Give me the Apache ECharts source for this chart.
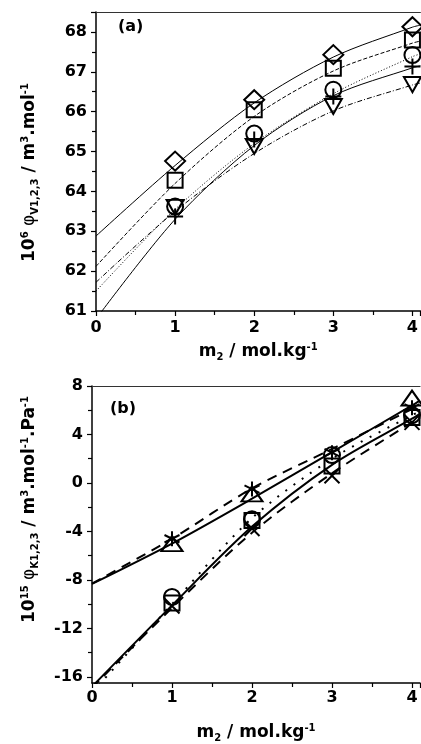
<!DOCTYPE html>
<html>
<head>
<meta charset="utf-8">
<script src="https://cdn.jsdelivr.net/npm/echarts@6/dist/echarts.min.js"></script>
<style>
  html, body { margin: 0; padding: 0; background: #fff; }
  #chart { width: 421px; height: 744px; }
</style>
</head>
<body>
<div id="chart"></div>
<script>
'use strict';

// measured points, m2 / mol.kg-1
const molality = [1, 2, 3, 4];
const fitX = [0, 1, 2, 3, 4, 4.1];

// panel (a): 10^6 phi_V
const diamondA = [64.76, 66.3, 67.43, 68.13];
const squareA = [64.28, 66.05, 67.09, 67.8];
const circleA = [63.62, 65.45, 66.55, 67.42];
const plusA = [63.37, 65.3, 66.38, 67.13];
const triDownA = [63.6, 65.13, 66.13, 66.68];

const fitDiamondA = [62.88, 64.65, 66.22, 67.37, 68.12, 68.17];
const fitSquareA = [62.12, 64.2, 65.88, 67.02, 67.72, 67.77];
const fitCircleA = [61.5, 63.55, 65.2, 66.45, 67.38, 67.45];
const fitPlusA = [60.8, 63.3, 65.15, 66.4, 67.1, 67.15];
const fitTriA = [61.72, 63.5, 64.95, 66.02, 66.67, 66.72];

// panel (b): 10^15 phi_K
const triUpB = [-5.0, -0.9, null, 7.0];
const starB = [-4.6, -0.5, 2.5, 6.2];
const circleB = [-9.4, -3.0, 2.3, 5.6];
const squareB = [-9.9, -3.1, 1.4, 5.4];
const crossB = [-10.15, -3.75, 0.6, 5.0];

const fitTriB = [-8.33, -5.0, -1.3, 2.55, 6.4, 6.8];
const fitStarB = [-8.3, -4.6, -0.45, 2.8, 6.1, 6.45];
const fitCircleB = [-16.8, -10.1, -3.6, 1.5, 5.3, 5.7];
const fitSquareB = [-17.3, -10.0, -2.9, 2.0, 5.6, 5.9];
const fitCrossB = [-16.9, -10.3, -4.1, 0.8, 5.0, 5.4];

const ticksB = [-16, -12, -8, -4, 0, 4, 8];
const minorTicksB = [-14, -10, -6, -2, 2, 6];

const FONT = 'DejaVu Sans';
const PLUS = 'path://M5,0 L5,10 M0,5 L10,5';
const CROSS = 'path://M0,0 L10,10 M10,0 L0,10';
const STAR = 'path://M5,0 L5,10 M0.7,2.5 L9.3,7.5 M9.3,2.5 L0.7,7.5';

const labelStyle = {color: '#000', fontFamily: FONT, fontWeight: 'bold', fontSize: 16};
const rich = {
  n: {color: '#000', fontFamily: FONT, fontWeight: 'bold', fontSize: 17},
  phi: {color: '#000', fontFamily: FONT, fontSize: 17},
  sup: {color: '#000', fontFamily: FONT, fontWeight: 'bold', fontSize: 10, padding: [0, 0, 10, 0]},
  sub: {color: '#000', fontFamily: FONT, fontWeight: 'bold', fontSize: 10, padding: [10, 0, 0, 0]}
};

function pairs(xs, ys) {
  return xs.map((x, i) => [x, ys[i]]);
}

function markers(values, symbol, size, gi, extra) {
  return Object.assign({
    type: 'scatter',
    xAxisIndex: gi * 2,
    yAxisIndex: gi * 2,
    data: pairs(molality, values),
    symbol: symbol,
    symbolSize: size,
    itemStyle: {color: 'rgba(0,0,0,0)', borderColor: '#000', borderWidth: 2, opacity: 1},
    z: 3
  }, extra || {});
}

function fit(values, type, width, gi) {
  return {
    type: 'line',
    xAxisIndex: gi * 2,
    yAxisIndex: gi * 2,
    data: pairs(fitX, values),
    smooth: 0.3,
    showSymbol: false,
    lineStyle: {color: '#000', width: width, type: type},
    z: 2
  };
}

function xAxis(gi, margin, nameGap) {
  return {
    type: 'value', gridIndex: gi, min: 0, max: 4.1, interval: 1,
    name: '{n|m}{sub|2}{n| / mol.kg}{sup|-1}',
    nameLocation: 'middle', nameGap: nameGap,
    nameTextStyle: {rich: rich},
    axisLine: {onZero: false, lineStyle: {color: '#000', width: 1.5}},
    axisTick: {length: 5, lineStyle: {color: '#000', width: 1.2}},
    minorTick: {show: true, splitNumber: 2, length: 4, lineStyle: {color: '#000', width: 1.2}},
    axisLabel: Object.assign({margin: margin, showMaxLabel: false}, labelStyle),
    splitLine: {show: false}
  };
}

function topBorder(gi) {
  return {
    type: 'value', gridIndex: gi, position: 'top', min: 0, max: 4.1,
    axisLine: {onZero: false, lineStyle: {color: '#333', width: 1.2}},
    axisTick: {show: false}, axisLabel: {show: false}, splitLine: {show: false}
  };
}

const option = {
  animation: false,
  backgroundColor: '#fff',
  grid: [
    {left: 96, right: 0, top: 12, height: 299},
    {left: 92, right: 1, top: 386, height: 300}
  ],
  xAxis: [
    xAxis(0, 9, 31), topBorder(0),
    xAxis(1, 7, 40), topBorder(1)
  ],
  yAxis: [
    {
      type: 'value', gridIndex: 0, min: 61, max: 68.5, interval: 1,
      name: '{n|10}{sup|6}{phi| φ}{sub|V1,2,3}{n| / m}{sup|3}{n|.mol}{sup|-1}',
      nameLocation: 'middle', nameRotate: 90, nameGap: 56,
      nameTextStyle: {rich: rich, padding: [0, 22, 0, 0]},
      axisLine: {onZero: false, lineStyle: {color: '#000', width: 1.5}},
      axisTick: {length: 5, lineStyle: {color: '#000', width: 1.2}},
      minorTick: {show: true, splitNumber: 2, length: 4, lineStyle: {color: '#000', width: 1.2}},
      axisLabel: Object.assign({margin: 9, showMaxLabel: false}, labelStyle),
      splitLine: {show: false}
    },
    {
      type: 'value', gridIndex: 0, min: 61, max: 68.5, show: false
    },
    {
      type: 'value', gridIndex: 1, min: -16.5, max: 8,
      name: '{n|10}{sup|15}{phi| φ}{sub|K1,2,3}{n| / m}{sup|3}{n|.mol}{sup|-1}{n|.Pa}{sup|-1}',
      nameLocation: 'middle', nameRotate: 90, nameGap: 52,
      nameTextStyle: {rich: rich, padding: [0, 0, 0, 50]},
      axisLine: {onZero: false, lineStyle: {color: '#000', width: 1.5}},
      axisTick: {length: 5, customValues: ticksB, lineStyle: {color: '#000', width: 1.2}},
      axisLabel: Object.assign({margin: 9, customValues: ticksB}, labelStyle),
      splitLine: {show: false}
    },
    {
      type: 'value', gridIndex: 1, min: -16.5, max: 8, position: 'left',
      axisLine: {show: false},
      axisTick: {length: 4, customValues: minorTicksB, lineStyle: {color: '#000', width: 1.2}},
      axisLabel: {show: false},
      splitLine: {show: false}
    }
  ],
  graphic: [
    {type: 'text', left: 118, top: 19, style: {text: '(a)', font: 'bold 16px "DejaVu Sans"', fill: '#000'}},
    {type: 'text', left: 110, top: 401, style: {text: '(b)', font: 'bold 16px "DejaVu Sans"', fill: '#000'}}
  ],
  series: [
    fit(fitDiamondA, 'solid', 1, 0),
    fit(fitSquareA, [4, 2], 1, 0),
    fit(fitCircleA, [1, 2], 1, 0),
    fit(fitPlusA, 'solid', 1, 0),
    fit(fitTriA, [5, 2, 1, 2], 1, 0),
    markers(diamondA, 'diamond', [20, 19], 0),
    markers(squareA, 'rect', 15, 0),
    markers(circleA, 'circle', 16, 0),
    markers(plusA, PLUS, 16, 0),
    markers(triDownA, 'triangle', [17, 15], 0, {symbolRotate: 180}),

    fit(fitTriB, 'solid', 2, 1),
    fit(fitStarB, [10, 7], 2, 1),
    fit(fitCircleB, 'solid', 2, 1),
    fit(fitSquareB, [2, 8], 2, 1),
    fit(fitCrossB, [10, 7], 2, 1),
    markers(triUpB, 'triangle', [21, 15], 1),
    markers(starB, STAR, 15, 1),
    markers(circleB, 'circle', 16, 1),
    markers(squareB, 'rect', 15, 1),
    markers(crossB, CROSS, 15, 1)
  ]
};

const chart = echarts.init(document.getElementById('chart'));
chart.setOption(option);
</script>
</body>
</html>
